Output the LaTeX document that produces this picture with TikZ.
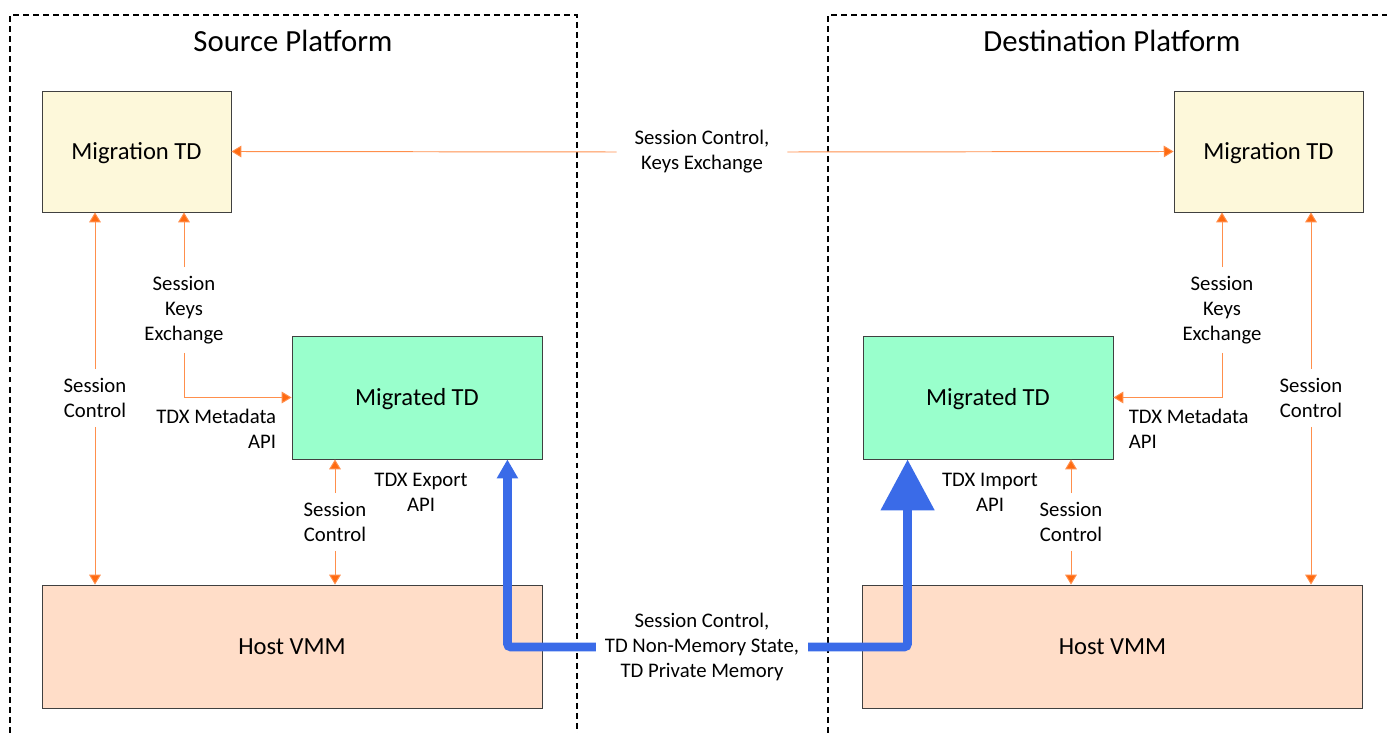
\documentclass[tikz,border=0pt]{standalone}
\usepackage{fontspec}
\setmainfont{Carlito}
\usetikzlibrary{arrows.meta,calc}

\definecolor{migtdfill}{HTML}{FDF8DA}
\definecolor{migratedfill}{HTML}{99FFCC}
\definecolor{vmmfill}{HTML}{FFDDC8}
\definecolor{ctrlorange}{HTML}{FF6A10}
\definecolor{flowblue}{HTML}{3A6BE8}

\begin{document}
\begin{tikzpicture}[x=0.02cm,y=-0.02cm,
    box/.style={draw=black!75,line width=0.5pt,font=\fontsize{14}{17}\selectfont,text height=12pt,text depth=3pt},
    migtd/.style={box,fill=migtdfill,minimum width=3.78cm,minimum height=2.42cm},
    migrated/.style={box,fill=migratedfill,minimum width=5cm,minimum height=2.46cm},
    vmm/.style={box,fill=vmmfill,minimum width=10cm,minimum height=2.46cm},
    platform/.style={font=\fontsize{17.5}{21}\selectfont},
    lbl/.style={align=center,font=\fontsize{11.8}{14.2}\selectfont,inner sep=5pt},
    ctrl/.style={draw=ctrlorange!75,line width=0.55pt,-{Triangle[length=5.6pt,width=6.6pt,fill=ctrlorange]}},
    frame/.style={draw=black,line width=0.7pt,dash pattern=on 3.4pt off 2.3pt},
    flow/.style={draw=flowblue,line width=5pt,rounded corners=2pt}]
    \useasboundingbox (0,0) rectangle (1387,733);
    % platforms
    \draw[frame] (10,733) -- (10,15) -- (577,15) -- (577,733);
    \draw[frame] (828,733) -- (828,15) -- (1387,15);
    \node[platform] (srcTitle) at (293,41) {Source Platform};
    \node[platform] (dstTitle) at (1112,41) {Destination Platform};
    % boxes
    \node[migtd] (mtdS) at (136.5,151.5) {Migration TD};
    \node[migtd] (mtdD) at (1268.5,151.5) {Migration TD};
    \node[migrated] (migS) at (417,397.5) {Migrated TD};
    \node[migrated] (migD) at (988,397.5) {Migrated TD};
    \node[vmm] (vmmS) at (292,646.5) {Host VMM};
    \node[vmm] (vmmD) at (1112.5,646.5) {Host VMM};
    % labels
    \node[lbl,inner xsep=10pt] (topLbl) at (702,152) {Session Control,\\Keys Exchange};
    \node[lbl] (scS) at (95,398) {Session\\Control};
    \node[lbl] (keyS) at (184,310) {Session\\Keys\\Exchange};
    \node[lbl,align=right,anchor=east,inner sep=2pt] (metaS) at (280,429) {TDX Metadata\\API};
    \node[lbl] (scS2) at (335,522) {Session\\Control};
    \node[lbl,inner sep=2pt] (expS) at (421,492) {TDX Export\\API};
    \node[lbl] (keyD) at (1222,310) {Session\\Keys\\Exchange};
    \node[lbl,align=left,anchor=west,inner sep=2pt] (metaD) at (1125,429) {TDX Metadata\\API};
    \node[lbl] (scD) at (1311,398) {Session\\Control};
    \node[lbl] (scD2) at (1071,522) {Session\\Control};
    \node[lbl,inner sep=2pt] (impD) at (990,492) {TDX Import\\API};
    \node[lbl,inner xsep=5pt] (midLbl) at (702,647) {Session Control,\\TD Non-Memory State,\\TD Private Memory};
    % control paths
    \draw[ctrl] (topLbl.west) -- (mtdS.east);
    \draw[ctrl] (topLbl.east) -- (mtdD.west);
    \draw[ctrl] (scS.north) -- (scS.north |- mtdS.south);
    \draw[ctrl] (scS.south) -- (scS.south |- vmmS.north);
    \draw[ctrl] (keyS.north) -- (keyS.north |- mtdS.south);
    \draw[ctrl] (keyS.south) |- (migS.west);
    \draw[ctrl] (scS2.north) -- (scS2.north |- migS.south);
    \draw[ctrl] (scS2.south) -- (scS2.south |- vmmS.north);
    \draw[ctrl] (keyD.north) -- (keyD.north |- mtdD.south);
    \draw[ctrl] (keyD.south) |- (migD.east);
    \draw[ctrl] (scD.north) -- (scD.north |- mtdD.south);
    \draw[ctrl] (scD.south) -- (scD.south |- vmmD.north);
    \draw[ctrl] (scD2.north) -- (scD2.north |- migD.south);
    \draw[ctrl] (scD2.south) -- (scD2.south |- vmmD.north);
    % migration stream
    \draw[flow,-{Triangle[length=10.8pt,width=11.5pt]}] (midLbl.west) -| ($(migS.south east)+(-35,0)$);
    \draw[flow,-{Triangle[length=29pt,width=29.5pt]}] (midLbl.east) -| ($(migD.south west)+(45,0)$);
\end{tikzpicture}
\end{document}
